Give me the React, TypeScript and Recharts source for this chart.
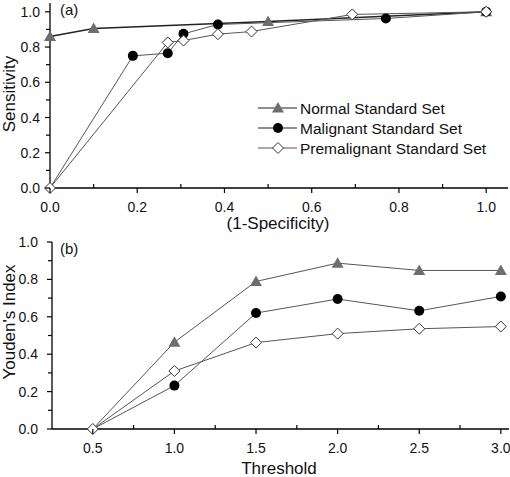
import React from 'react';
import { LineChart, Line, XAxis, YAxis, Legend, Label } from 'recharts';

// ---- Panel (a): ROC curves ----
const rocNormalX = [0, 0.1, 0.5, 1.0];
const rocNormalY = [0.86, 0.905, 0.945, 1.0];
const rocMalignantX = [0, 0.19, 0.27, 0.306, 0.385, 0.77, 1.0];
const rocMalignantY = [0, 0.75, 0.765, 0.875, 0.928, 0.962, 1.0];
const rocPremalX = [0, 0.27, 0.306, 0.385, 0.462, 0.693, 1.0];
const rocPremalY = [0, 0.826, 0.837, 0.873, 0.888, 0.985, 1.0];

// ---- Panel (b): Youden's index vs threshold ----
const thresholds = [0.5, 1.0, 1.5, 2.0, 2.5, 3.0];
const youdenNormal = [0, 0.464, 0.789, 0.887, 0.848, 0.848];
const youdenMalignant = [0, 0.232, 0.62, 0.695, 0.632, 0.709];
const youdenPremal = [0, 0.31, 0.462, 0.51, 0.536, 0.548];

const seriesNames = ['Normal Standard Set', 'Malignant Standard Set', 'Premalignant Standard Set'];
const rocXTicks = [0, 0.1, 0.2, 0.3, 0.4, 0.5, 0.6, 0.7, 0.8, 0.9, 1.0];
const unitYTicks = [0, 0.1, 0.2, 0.3, 0.4, 0.5, 0.6, 0.7, 0.8, 0.9, 1.0];
const thrTicks = [0.5, 0.75, 1.0, 1.25, 1.5, 1.75, 2.0, 2.25, 2.5, 2.75, 3.0];

const FONT = '"Liberation Sans", Arial, Helvetica, sans-serif';
const GRAY = '#6e6e6e';
const LINE = '#555';

const zip = (xs: number[], ys: number[]) => xs.map((x, i) => ({ x, y: ys[i] }));
const rocNormal = zip(rocNormalX, rocNormalY);
const rocMalignant = zip(rocMalignantX, rocMalignantY);
const rocPremal = zip(rocPremalX, rocPremalY);
const youdenData = thresholds.map((t, i) => ({
  x: t,
  n: youdenNormal[i],
  m: youdenMalignant[i],
  p: youdenPremal[i],
}));

const isMajor = (v: number, step: number) => Math.abs(v / step - Math.round(v / step)) < 1e-6;

function makeXTick(axisY: number, step: number) {
  return (props: any) => {
    const { x, payload } = props;
    const v = payload.value as number;
    const major = isMajor(v, step);
    return (
      <g>
        {major ? (
          <line x1={x} x2={x} y1={axisY} y2={axisY + 5} stroke="#000" strokeWidth={1.2} />
        ) : (
          <line x1={x} x2={x} y1={axisY} y2={axisY - 4} stroke="#000" strokeWidth={1.2} />
        )}
        {major && (
          <text x={x} y={axisY + 24} textAnchor="middle" fontSize={14} fontFamily={FONT} fill="#111">
            {v.toFixed(1)}
          </text>
        )}
      </g>
    );
  };
}

function makeYTick(axisX: number, labelRight: number) {
  return (props: any) => {
    const { y, payload } = props;
    const v = payload.value as number;
    const major = isMajor(v, 0.2);
    return (
      <g>
        <line x1={axisX - (major ? 5 : 4)} x2={axisX} y1={y} y2={y} stroke="#000" strokeWidth={1.2} />
        {major && (
          <text x={labelRight} y={y + 5} textAnchor="end" fontSize={14} fontFamily={FONT} fill="#111">
            {v.toFixed(1)}
          </text>
        )}
      </g>
    );
  };
}

const triPoints = (cx: number, cy: number) =>
  `${cx},${cy - 6} ${cx - 6},${cy + 4.5} ${cx + 6},${cy + 4.5}`;
const diaPoints = (cx: number, cy: number) =>
  `${cx},${cy - 5.5} ${cx + 5.5},${cy} ${cx},${cy + 5.5} ${cx - 5.5},${cy}`;

const valueOf = (props: any) => {
  const p = props.payload || {};
  const k = props.dataKey;
  return typeof k === 'string' ? p[k] : undefined;
};

const triangleDot = (props: any) => {
  const { cx, cy, index } = props;
  if (cx == null || cy == null || valueOf(props) === 0) return <g key={`t${index}`} />;
  return <polygon key={`t${index}`} points={triPoints(cx, cy)} fill={GRAY} />;
};
const circleDot = (props: any) => {
  const { cx, cy, index } = props;
  if (cx == null || cy == null || valueOf(props) === 0) return <g key={`c${index}`} />;
  return <circle key={`c${index}`} cx={cx} cy={cy} r={5} fill="#000" />;
};
const diamondDot = (props: any) => {
  const { cx, cy, index } = props;
  if (cx == null || cy == null) return <g key={`d${index}`} />;
  return <polygon key={`d${index}`} points={diaPoints(cx, cy)} fill="#fff" stroke="#333" strokeWidth={1} />;
};

const LegendBox = () => (
  <svg width={255} height={62} style={{ display: 'block' }}>
    {[0, 1, 2].map((i) => {
      const y = 10 + i * 20;
      return (
        <g key={i}>
          <line x1={3} x2={42} y1={y} y2={y} stroke={i === 2 ? LINE : '#222'} strokeWidth={1.2} />
          {i === 0 && <polygon points={triPoints(23, y)} fill={GRAY} />}
          {i === 1 && <circle cx={23} cy={y} r={5} fill="#000" />}
          {i === 2 && <polygon points={diaPoints(23, y)} fill="#fff" stroke="#333" strokeWidth={1} />}
          <text x={45} y={y + 5.5} fontSize={15.5} fontFamily={FONT} fill="#111">
            {seriesNames[i]}
          </text>
        </g>
      );
    })}
  </svg>
);

const axisLine = { stroke: '#000', strokeWidth: 1.3 };

export default function App() {
  return (
    <div style={{ position: 'absolute', left: 0, top: 0, width: 510, height: 477, background: '#fff', overflow: 'hidden' }}>
      <LineChart width={510} height={240} margin={{ top: 3, right: 2, bottom: 10, left: 0 }}>
        <XAxis
          type="number"
          dataKey="x"
          domain={[0, 1.05]}
          ticks={rocXTicks}
          interval={0}
          height={42}
          axisLine={axisLine}
          tickLine={false}
          tick={makeXTick(188, 0.2)}
        >
          <Label
            content={() => (
              <text x={278} y={228.5} textAnchor="middle" fontSize={17} fontFamily={FONT} fill="#111">
                (1-Specificity)
              </text>
            )}
          />
        </XAxis>
        <YAxis
          type="number"
          domain={[0, 1.05]}
          ticks={unitYTicks}
          interval={0}
          width={50}
          axisLine={axisLine}
          tickLine={false}
          tick={makeYTick(50, 40)}
        >
          <Label
            content={() => (
              <g>
                <text
                  transform="translate(15,94) rotate(-90)"
                  textAnchor="middle"
                  fontSize={17}
                  fontFamily={FONT}
                  fill="#111"
                >
                  Sensitivity
                </text>
                <text x={60} y={15} fontSize={15} fontFamily={FONT} fill="#111">
                  (a)
                </text>
              </g>
            )}
          />
        </YAxis>
        <Line
          data={rocNormal}
          dataKey="y"
          name={seriesNames[0]}
          stroke="#222"
          strokeWidth={1.5}
          dot={triangleDot}
          activeDot={false}
          isAnimationActive={false}
        />
        <Line
          data={rocMalignant}
          dataKey="y"
          name={seriesNames[1]}
          stroke={LINE}
          strokeWidth={1}
          dot={circleDot}
          activeDot={false}
          isAnimationActive={false}
        />
        <Line
          data={rocPremal}
          dataKey="y"
          name={seriesNames[2]}
          stroke={LINE}
          strokeWidth={1}
          dot={diamondDot}
          activeDot={false}
          isAnimationActive={false}
        />
        <Legend
          layout="horizontal"
          verticalAlign="middle"
          align="center"
          content={() => <LegendBox />}
          wrapperStyle={{ left: 255, top: 98, width: 255, height: 62 }}
        />
      </LineChart>
      <div style={{ marginTop: -10 }}>
        <LineChart width={510} height={247} data={youdenData} margin={{ top: 12, right: 1, bottom: 0, left: 0 }}>
          <XAxis
            type="number"
            dataKey="x"
            domain={[0.25, 3.05]}
            ticks={thrTicks}
            interval={0}
            height={48}
            axisLine={axisLine}
            tickLine={false}
            tick={makeXTick(199, 0.5)}
          >
            <Label
              content={() => (
                <text x={279} y={244} textAnchor="middle" fontSize={17} fontFamily={FONT} fill="#111">
                  Threshold
                </text>
              )}
            />
          </XAxis>
          <YAxis
            type="number"
            domain={[0, 1]}
            ticks={unitYTicks}
            interval={0}
            width={52}
            axisLine={axisLine}
            tickLine={false}
            tick={makeYTick(52, 38)}
          >
            <Label
              content={() => (
                <g>
                  <text
                    transform="translate(15,92) rotate(-90)"
                    textAnchor="middle"
                    fontSize={17}
                    fontFamily={FONT}
                    fill="#111"
                  >
                    Youden's Index
                  </text>
                  <text x={60} y={24} fontSize={15} fontFamily={FONT} fill="#111">
                    (b)
                  </text>
                </g>
              )}
            />
          </YAxis>
          <Line dataKey="n" stroke={LINE} strokeWidth={1} dot={triangleDot} activeDot={false} isAnimationActive={false} />
          <Line dataKey="m" stroke={LINE} strokeWidth={1} dot={circleDot} activeDot={false} isAnimationActive={false} />
          <Line dataKey="p" stroke={LINE} strokeWidth={1} dot={diamondDot} activeDot={false} isAnimationActive={false} />
        </LineChart>
      </div>
    </div>
  );
}
